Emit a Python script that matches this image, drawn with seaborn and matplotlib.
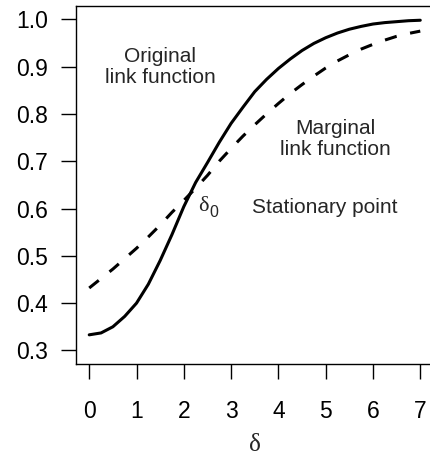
import matplotlib
matplotlib.use("Agg")
import matplotlib.pyplot as plt
import seaborn as sns
import pandas as pd

# delta grid and the two link curves
delta = [0.0, 0.25, 0.5, 0.75, 1.0, 1.25, 1.5, 1.75, 2.0, 2.25, 2.5, 2.75,
         3.0, 3.25, 3.5, 3.75, 4.0, 4.25, 4.5, 4.75, 5.0, 5.25, 5.5, 5.75,
         6.0, 6.25, 6.5, 6.75, 7.0]
original_link = [0.333, 0.337, 0.350, 0.372, 0.400, 0.440, 0.490, 0.545,
                 0.604, 0.655, 0.697, 0.740, 0.780, 0.814, 0.847, 0.873,
                 0.896, 0.916, 0.934, 0.949, 0.961, 0.971, 0.979, 0.985,
                 0.990, 0.993, 0.995, 0.997, 0.998]
marginal_link = [0.432, 0.452, 0.472, 0.494, 0.516, 0.540, 0.565, 0.592,
                 0.617, 0.643, 0.670, 0.700, 0.727, 0.753, 0.777, 0.800,
                 0.822, 0.843, 0.862, 0.880, 0.897, 0.912, 0.925, 0.937,
                 0.947, 0.956, 0.964, 0.970, 0.975]

x_ticks = [0, 1, 2, 3, 4, 5, 6, 7]
y_ticks = [0.3, 0.4, 0.5, 0.6, 0.7, 0.8, 0.9, 1.0]

sns.set_style("white")
plt.rcParams["font.family"] = ["Liberation Sans", "DejaVu Sans"]

df = pd.DataFrame({"delta": delta, "original": original_link,
                   "marginal": marginal_link})

fig = plt.figure(figsize=(4.31, 4.55), dpi=100)
ax = fig.add_axes([0.1763, 0.2007, 0.8295, 0.786])

sns.lineplot(data=df, x="delta", y="original", ax=ax, color="black",
             linewidth=2.2)
sns.lineplot(data=df, x="delta", y="marginal", ax=ax, color="black",
             linewidth=2.2, linestyle=(0, (4, 4.5)))

ax.set_xlim(-0.28, 7.28)
ax.set_ylim(0.272, 1.028)
ax.set_xticks(x_ticks)
ax.set_yticks(y_ticks)
ax.set_xticklabels([str(t) for t in x_ticks])
ax.set_yticklabels([f"{t:.1f}" for t in y_ticks])
ax.tick_params(axis="both", direction="out", length=11, width=1.0,
               color="black", labelsize=16.5, labelcolor="black",
               bottom=True, left=True)
ax.tick_params(axis="x", pad=15)
ax.tick_params(axis="y", pad=9)
for side in ["left", "top", "bottom"]:
    ax.spines[side].set_visible(True)
    ax.spines[side].set_color("black")
    ax.spines[side].set_linewidth(1.0)
ax.spines["right"].set_visible(False)

ax.set_xlabel("")
ax.set_ylabel("")
fig.text(0.5 * (0.1763 + 1.0058), 0.021, "δ", ha="center", va="center",
         fontsize=18, family=["Liberation Serif", "DejaVu Serif"])

ax.text(1.50, 0.899, "Original\nlink function", ha="center", va="center",
        fontsize=15, linespacing=1.15)
ax.text(5.20, 0.747, "Marginal\nlink function", ha="center", va="center",
        fontsize=15, linespacing=1.15)
ax.text(4.99, 0.602, "Stationary point", ha="center", va="center",
        fontsize=15)

# δ0 marks the crossing of the two curves
ax.text(2.41, 0.604, "δ", ha="center", va="center", fontsize=16,
        family=["Liberation Serif", "DejaVu Serif"])
ax.annotate("0", xy=(2.41, 0.604), xytext=(7.5, -4),
            textcoords="offset points", ha="center", va="center",
            fontsize=11.5)

fig.savefig("out.png", dpi=100)
